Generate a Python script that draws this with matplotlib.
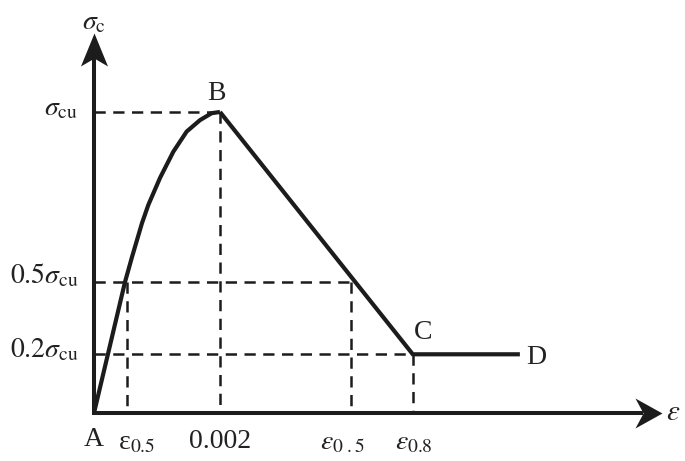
import matplotlib
matplotlib.use("Agg")
import matplotlib.pyplot as plt
from matplotlib.path import Path

plt.rcParams['font.family'] = ['Liberation Serif', 'DejaVu Serif']
plt.rcParams['mathtext.fontset'] = 'stix'

# rising branch (strain, stress / sigma_cu as drawn)
rise_eps = [0.0, 0.000492, 0.000603, 0.000762, 0.000862, 0.001048, 0.001259,
            0.001471, 0.001683, 0.001868, 0.002]
rise_sig = [0.0, 0.435, 0.518, 0.631, 0.691, 0.781, 0.868,
            0.935, 0.973, 0.996, 1.0]

# falling branch B -> C and plateau C -> D
fall_eps = [0.002, 0.00506, 0.00676]
fall_sig = [1.0, 0.195, 0.195]

# reference levels and strains for dashed guides
eps_peak = 0.002
eps_05_up = 0.000524
eps_05_down = 0.00408
eps_08 = 0.00506
sig_cu = 1.0
sig_05 = 0.435
sig_02 = 0.195

ink = '#1c1c1c'

fig = plt.figure(figsize=(6.85, 4.61), dpi=100)
ax = fig.add_axes([0, 0, 1, 1])
ax.set_xlim(-0.001492, 0.009381)
ax.set_ylim(-0.1595, 1.372)
ax.axis('off')

# dashed guides
dash = dict(color=ink, lw=1.8, linestyle=(0, (4.5, 3)), zorder=1)
ax.plot([0, eps_peak], [sig_cu, sig_cu], **dash)
ax.plot([eps_peak, eps_peak], [sig_cu, 0], **dash)
ax.plot([0, eps_05_down], [sig_05, sig_05], **dash)
ax.plot([eps_05_up, eps_05_up], [sig_05, 0], **dash)
ax.plot([eps_05_down, eps_05_down], [sig_05, 0], **dash)
ax.plot([0, eps_08], [sig_02, sig_02], **dash)
ax.plot([eps_08, eps_08], [sig_02, 0], **dash)

# stress-strain curve
ax.plot(rise_eps, rise_sig, color=ink, lw=3.0, solid_joinstyle='round', solid_capstyle='butt', zorder=3)
ax.plot(fall_eps, fall_sig, color=ink, lw=3.0, solid_joinstyle='miter', solid_capstyle='butt', zorder=3)

# axes with concave arrow heads
head_up = Path([(0, 0), (0.41, -1), (0, -0.76), (-0.41, -1), (0, 0)],
               [Path.MOVETO, Path.LINETO, Path.LINETO, Path.LINETO, Path.CLOSEPOLY])
head_right = Path([(0, 0), (-1, 0.555), (-0.7, 0), (-1, -0.555), (0, 0)],
                  [Path.MOVETO, Path.LINETO, Path.LINETO, Path.LINETO, Path.CLOSEPOLY])
x_end, x_notch = 0.00901, 0.008714
y_end, y_notch = 1.261, 1.179
ax.plot([-0.00002, x_notch], [0, 0], color=ink, lw=2.9, solid_capstyle='butt', zorder=4)
ax.plot([0, 0], [-0.006, y_notch], color=ink, lw=2.9, solid_capstyle='butt', zorder=4)
ax.plot([x_end], [0], marker=head_right, ms=38.9, color=ink, mew=0, zorder=5)
ax.plot([0], [y_end], marker=head_up, ms=47.5, color=ink, mew=0, zorder=5)

txt = dict(color='#222222', fontsize=20)
ax.text(0, 1.296, r'$\sigma_{\rm c}$', ha='center', va='center', **txt)
ax.text(-0.000254, 1.01, r'$\sigma_{\rm cu}$', ha='right', va='center', **txt)
ax.text(-0.000254, 0.455, r'$0.5\sigma_{\rm cu}$', ha='right', va='center', **txt)
ax.text(-0.000254, 0.209, r'$0.2\sigma_{\rm cu}$', ha='right', va='center', **txt)
ax.text(0.001937, 1.063, 'B', ha='center', va='center', **txt)
ax.text(0.005222, 0.269, 'C', ha='center', va='center', **txt)
ax.text(0.007016, 0.186, 'D', ha='center', va='center', **txt)
ax.text(0, -0.0897, 'A', ha='center', va='center', **txt)
ax.text(0.000683, -0.0997, r'ε$_{0.5}$', ha='center', va='center', **txt)
ax.text(0.002, -0.0947, '0.002', ha='center', va='center', **txt)
ax.text(0.003937, -0.0997, r'$\varepsilon_{0\ .5}$', ha='center', va='center', **txt)
ax.text(0.00508, -0.0997, r'$\varepsilon_{0.8}$', ha='center', va='center', **txt)
ax.text(0.00919, 0.0, r'$\varepsilon$', ha='center', va='center', color='#222222', fontsize=21)

fig.savefig('out.png', dpi=100)
